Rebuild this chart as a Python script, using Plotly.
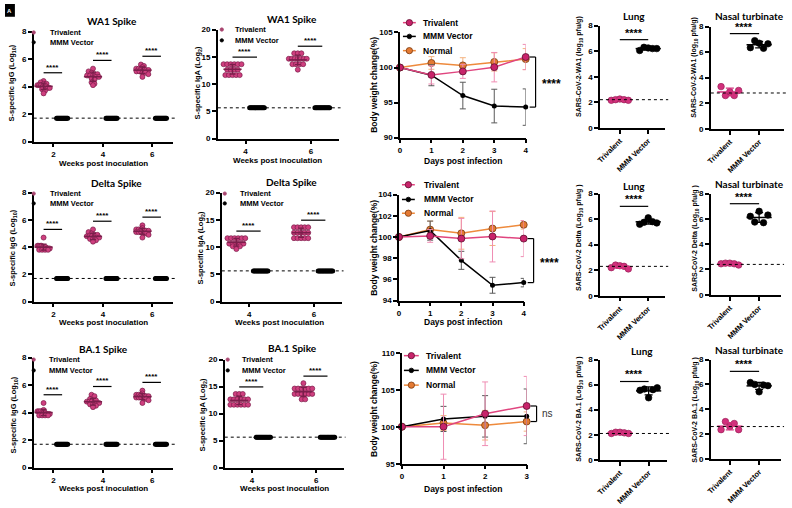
import numpy as np
import plotly.graph_objects as go

W, H = 792, 508
FONT = "Liberation Sans"
TFONT = "Lato"

# ---------------- serum IgG (log10) ----------------
igg_weeks = [2, 4, 6]
igg_lod = 1.7
igg_wa1_tri = [
    [4.4, 4.3, 4.2, 4.2, 4.1, 4.1, 4.1, 4.0, 4.0, 4.0, 3.9, 3.9, 3.8, 3.7, 3.5],
    [5.3, 5.1, 5.0, 4.9, 4.9, 4.8, 4.8, 4.8, 4.7, 4.7, 4.6, 4.5, 4.3, 4.2, 4.1],
    [5.6, 5.5, 5.4, 5.3, 5.3, 5.3, 5.2, 5.2, 5.2, 5.1, 5.1, 5.0, 5.0, 4.9, 4.7],
]
igg_delta_tri = [
    [4.7, 4.1, 4.1, 4.1, 4.1, 4.0, 4.0, 4.0, 3.9, 3.9, 3.9, 3.8, 3.8, 3.8, 3.8],
    [5.3, 5.1, 5.0, 4.9, 4.9, 4.8, 4.8, 4.8, 4.7, 4.7, 4.7, 4.6, 4.6, 4.5, 4.4],
    [5.6, 5.4, 5.3, 5.3, 5.3, 5.2, 5.2, 5.2, 5.1, 5.1, 5.1, 5.0, 5.0, 4.9, 4.7],
]
igg_ba1_tri = [
    [4.7, 4.2, 4.1, 4.1, 4.1, 4.0, 4.0, 4.0, 3.9, 3.9, 3.9, 3.8, 3.8, 3.8, 3.8],
    [5.3, 5.2, 5.0, 4.9, 4.9, 4.8, 4.8, 4.8, 4.7, 4.7, 4.7, 4.6, 4.6, 4.5, 4.4],
    [5.6, 5.4, 5.3, 5.3, 5.3, 5.2, 5.2, 5.2, 5.1, 5.1, 5.1, 5.0, 5.0, 4.9, 4.7],
]
igg_mmm = [1.7, 1.7, 1.7, 1.7, 1.7, 1.7, 1.7, 1.7, 1.7, 1.7, 1.7, 1.7, 1.7, 1.7, 1.7]

# ---------------- mucosal IgA (log2) ----------------
iga_weeks = [4, 6]
iga_lod = 5.64
iga_wa1_tri = [
    [13.64, 13.64, 13.64, 13.64, 13.64, 13.64, 12.64, 12.64, 12.64, 12.64, 11.64, 11.64, 11.64, 11.64, 11.64],
    [15.64, 15.64, 15.64, 14.64, 14.64, 14.64, 14.64, 14.64, 14.64, 14.64, 13.64, 13.64, 13.64, 13.64, 12.64],
]
iga_delta_tri = [
    [11.64, 11.64, 11.64, 11.64, 11.64, 11.64, 10.64, 10.64, 10.64, 10.64, 10.64, 10.14, 10.14, 10.14, 9.64],
    [13.64, 13.64, 13.64, 13.64, 13.64, 12.64, 12.64, 12.64, 12.64, 12.64, 11.64, 11.64, 11.64, 11.64, 11.64],
]
iga_ba1_tri = [
    [13.64, 13.64, 13.64, 12.64, 12.64, 12.64, 12.64, 12.64, 12.64, 11.64, 11.64, 11.64, 11.64, 11.64, 11.64],
    [15.64, 14.64, 14.64, 14.64, 14.64, 14.64, 14.64, 13.64, 13.64, 13.64, 13.64, 13.64, 13.64, 12.64, 12.64],
]
iga_mmm = [5.64, 5.64, 5.64, 5.64, 5.64, 5.64, 5.64, 5.64, 5.64, 5.64, 5.64, 5.64, 5.64, 5.64, 5.64]

# ---------------- body weight change (%) ----------------
bw_names = ["Trivalent", "MMM Vector", "Normal"]
days_wa1 = [0, 1, 2, 3, 4]
bw_wa1_tri = [100, 98.95, 99.45, 100.05, 101.5]
bw_wa1_tri_sd = [0, 1.3, 1.0, 2.1, 1.8]
bw_wa1_mmm = [100, 98.9, 96.0, 94.5, 94.35]
bw_wa1_mmm_sd = [0, 1.5, 1.9, 2.4, 2.6]
bw_wa1_nor = [100, 100.65, 100.3, 100.8, 101.2]
bw_wa1_nor_sd = [0, 0.9, 1.1, 1.3, 1.5]

days_delta = [0, 1, 2, 3, 4]
bw_delta_tri = [100, 100.1, 99.85, 100.05, 99.85]
bw_delta_tri_sd = [0, 0.6, 1.9, 2.4, 1.7]
bw_delta_mmm = [100, 100.6, 97.8, 95.45, 95.7]
bw_delta_mmm_sd = [0, 0.9, 0.85, 0.75, 0.4]
bw_delta_nor = [100, 100.7, 100.35, 100.8, 101.15]
bw_delta_nor_sd = [0, 0.8, 1.5, 1.6, 0.4]

days_ba1 = [0, 1, 2, 3]
bw_ba1_tri = [100, 100.0, 101.75, 102.8]
bw_ba1_tri_sd = [0, 4.4, 4.3, 4.0]
bw_ba1_mmm = [100, 101.05, 101.4, 101.4]
bw_ba1_mmm_sd = [0, 1.7, 2.8, 3.7]
bw_ba1_nor = [100, 100.5, 100.2, 100.7]
bw_ba1_nor_sd = [0, 1.0, 2.0, 1.3]

# ---------------- tissue viral titers (log10 pfu/g) ----------------
groups = ["Trivalent", "MMM Vector"]
lung_wa1_tri = [2.15, 2.2, 2.25, 2.2, 2.15]
lung_wa1_mmm = [6.05, 6.3, 6.25, 6.2, 6.2]
lung_wa1_lod = 2.2
nasal_wa1_tri = [3.3, 2.6, 2.9, 2.6, 3.0]
nasal_wa1_mmm = [6.35, 6.9, 6.7, 6.3, 6.65]
nasal_wa1_lod = 2.8
lung_delta_tri = [2.2, 2.4, 2.35, 2.3, 2.1]
lung_delta_mmm = [5.6, 5.75, 6.1, 5.8, 5.7]
lung_delta_lod = 2.3
nasal_delta_tri = [2.45, 2.5, 2.5, 2.45, 2.35]
nasal_delta_mmm = [6.2, 5.75, 6.6, 5.7, 6.3]
nasal_delta_lod = 2.4
lung_ba1_tri = [2.1, 2.2, 2.2, 2.15, 2.1]
lung_ba1_mmm = [5.55, 5.65, 4.95, 5.6, 5.75]
lung_ba1_lod = 2.1
nasal_ba1_tri = [2.35, 3.0, 2.6, 2.85, 2.35]
nasal_ba1_mmm = [6.15, 6.0, 5.4, 5.95, 5.9]
nasal_ba1_lod = 2.6

# ---------------- colours ----------------
TRI = "#cf3f7f"
TRI_EDGE = "#7a1d49"
TRI_BAR = "#7b1e4b"
BW_TRI_LINE = "#e0457f"
BW_TRI_ERR = "#ef8db3"
BW_MMM_ERR = "#5a5a5a"
BW_NOR_LINE = "#ee8a3c"
BW_NOR_MARK = "#e47a33"
BW_NOR_ERR = "#f4b27e"

fig = go.Figure()
shapes = []
annos = []


class Panel:
    def __init__(self, n, xpx, ypx, xr, yr):
        self.n = n
        self.x0, self.x1 = xpx
        self.y0, self.y1 = ypx
        self.xr, self.yr = xr, yr
        self.sfx = "" if n == 1 else str(n)

    def px(self, x):
        return self.x0 + (x - self.xr[0]) / (self.xr[1] - self.xr[0]) * (self.x1 - self.x0)

    def py(self, y):
        return self.y1 - (y - self.yr[0]) / (self.yr[1] - self.yr[0]) * (self.y1 - self.y0)


def text(xp, yp, s, size, bold=True, family=FONT, angle=0, xa="center", ya="middle", color="black"):
    annos.append(dict(x=xp / W, y=1 - yp / H, xref="paper", yref="paper", text=s, showarrow=False,
                      font=dict(family=family, size=size, color=color, weight="bold" if bold else "normal"),
                      textangle=angle, xanchor=xa, yanchor=ya))


def seg(xa, ya, xb, yb, color="black", width=1.2, dash="solid"):
    shapes.append(dict(type="line", xref="paper", yref="paper", x0=xa / W, x1=xb / W,
                       y0=1 - ya / H, y1=1 - yb / H, line=dict(color=color, width=width, dash=dash)))


def dot(xp, yp, r, fill, edge):
    shapes.append(dict(type="circle", xref="paper", yref="paper", x0=(xp - r) / W, x1=(xp + r) / W,
                       y0=1 - (yp + r) / H, y1=1 - (yp - r) / H, fillcolor=fill, line=dict(color=edge, width=0.8)))


def make_axes(P, xt, yt, xtext=None, xangle=0, xsize=8):
    base = dict(showline=True, linecolor="black", linewidth=1.5, ticks="outside", ticklen=4, tickwidth=1.5,
                tickcolor="black", showgrid=False, zeroline=False, fixedrange=True)
    fig.update_layout(**{
        "xaxis" + P.sfx: dict(base, domain=[P.x0 / W, P.x1 / W], range=P.xr, anchor="y" + P.sfx,
                              tickvals=xt, ticktext=xtext if xtext else [str(t) for t in xt], tickangle=xangle,
                              tickfont=dict(family=FONT, size=xsize, color="black", weight="bold")),
        "yaxis" + P.sfx: dict(base, domain=[1 - P.y1 / H, 1 - P.y0 / H], range=P.yr, anchor="x" + P.sfx,
                              tickvals=yt, tickfont=dict(family=FONT, size=8, color="black", weight="bold")),
    })


def swarm(values, center, step, width, bin_size):
    v = np.asarray(values, dtype=float)
    keys = np.floor(v / bin_size + 0.5)
    xs = np.zeros_like(v)
    for k in np.unique(keys):
        idx = np.where(keys == k)[0]
        n = len(idx)
        s = step if n < 2 else min(step, width / (n - 1))
        xs[idx] = center + (np.arange(n) - (n - 1) / 2.0) * s
    return xs


def mean_sd(P, cx, vals, color, mw, cap):
    v = np.asarray(vals, float)
    fig.add_trace(go.Scatter(x=[cx], y=[v.mean()], xaxis="x" + P.sfx, yaxis="y" + P.sfx, mode="markers",
                             marker=dict(symbol="line-ew", size=mw, line=dict(color=color, width=1.5)),
                             error_y=dict(type="data", array=[v.std(ddof=1)], color=color, thickness=1.3, width=cap),
                             showlegend=False, cliponaxis=False))


def stars(P, xa, xb, y, size, s="****"):
    seg(P.px(xa), P.py(y), P.px(xb), P.py(y), width=1.2)
    text((P.px(xa) + P.px(xb)) / 2, P.py(y) + 1, s, size, ya="bottom")


def dot_panel(P, weeks, tri_groups, mmm, lod, step, width, bin_size, gap):
    seg(P.x0, P.py(lod), P.x1 + 2, P.py(lod), width=1, dash="dot")
    for wk, tri in zip(weeks, tri_groups):
        ct, cm = wk - 0.4, wk + 0.35
        fig.add_trace(go.Scatter(x=swarm(mmm, cm, step, 0.45, bin_size), y=mmm, xaxis="x" + P.sfx,
                                 yaxis="y" + P.sfx, mode="markers", showlegend=False,
                                 marker=dict(size=5, color="black")))
        fig.add_trace(go.Scatter(x=swarm(tri, ct, step, width, bin_size), y=tri, xaxis="x" + P.sfx,
                                 yaxis="y" + P.sfx, mode="markers", showlegend=False,
                                 marker=dict(size=5, color=TRI, line=dict(color=TRI_EDGE, width=0.7))))
        mean_sd(P, ct, tri, TRI_BAR, 13, 3)
        stars(P, ct, cm, max(tri) + gap, 8)


def legend_dots(xm, ys, xt, size=7.5):
    dot(xm, ys[0], 1.7, "#a8456f", "#a8456f")
    dot(xm, ys[1], 1.7, "black", "black")
    text(xt, ys[0], "Trivalent", size, xa="left")
    text(xt, ys[1], "MMM Vector", size, xa="left")


def bw_panel(P, days, tri, tri_sd, mmm, mmm_sd, nor, nor_sd, label, lx, ly, ltx):
    ref = dict(xaxis="x" + P.sfx, yaxis="y" + P.sfx, showlegend=False, cliponaxis=False, mode="lines+markers")
    fig.add_trace(go.Scatter(x=days, y=nor, line=dict(color=BW_NOR_LINE, width=1.5),
                             marker=dict(size=7, color=BW_NOR_MARK, line=dict(color="#7a3a10", width=0.8)),
                             error_y=dict(type="data", array=nor_sd, color=BW_NOR_ERR, thickness=1, width=3), **ref))
    fig.add_trace(go.Scatter(x=days, y=mmm, line=dict(color="black", width=1.5),
                             marker=dict(size=5, color="black"),
                             error_y=dict(type="data", array=mmm_sd, color=BW_MMM_ERR, thickness=1, width=3), **ref))
    fig.add_trace(go.Scatter(x=days, y=tri, line=dict(color=BW_TRI_LINE, width=1.5),
                             marker=dict(size=7, color="#c8236a", line=dict(color="#5e0f30", width=0.8)),
                             error_y=dict(type="data", array=tri_sd, color=BW_TRI_ERR, thickness=1, width=3), **ref))
    # bracket between groups at the last day
    top = tri[-1]
    bot = min(mmm[-1], nor[-1])
    xr = P.px(days[-1]) + 10
    for yv in (top, bot):
        seg(xr - 6, P.py(yv), xr, P.py(yv), width=1.2)
    seg(xr, P.py(top), xr, P.py(bot), width=1.2)
    ymid = (P.py(top) + P.py(bot)) / 2
    if label == "ns":
        text(xr + 3, ymid, "ns", 10, bold=False, xa="left", color="#333333")
    else:
        text(xr + 16, ymid + 2, label, 12)
    # legend
    specs = [(BW_TRI_LINE, "#c8236a", "#5e0f30", 3.2), ("black", "black", "black", 2.3),
             (BW_NOR_LINE, BW_NOR_MARK, "#7a3a10", 3.2)]
    for (lc, fc, ec, r), yy, nm in zip(specs, ly, bw_names):
        seg(lx[0], yy, lx[1], yy, color=lc, width=1.5)
        dot((lx[0] + lx[1]) / 2, yy, r, fc, ec)
        text(ltx, yy, nm, 8.5, xa="left")


def tissue_panel(P, tri, mmm, lod, gap):
    seg(P.x0, P.py(lod), P.x1 + 3, P.py(lod), width=1, dash="dot")
    for ci, vals, fill, edge, bar in ((0, tri, "#d2307c", "#9a1f58", "#d2307c"),
                                      (1, mmm, "black", "black", "black")):
        xs = ci + np.linspace(-0.3, 0.3, len(vals))
        fig.add_trace(go.Scatter(x=xs, y=vals, xaxis="x" + P.sfx, yaxis="y" + P.sfx, mode="markers",
                                 showlegend=False, cliponaxis=False,
                                 marker=dict(size=6.5, color=fill, line=dict(color=edge, width=0.7))))
        mean_sd(P, ci, vals, bar, 18, 4)
    stars(P, 0, 1, max(mmm) + gap, 11)


# ---------------- panels ----------------
igg_rows = [(igg_wa1_tri, (28, 140)), (igg_delta_tri, (192, 303)), (igg_ba1_tri, (360, 472))]
iga_rows = [(iga_wa1_tri, (215, 337), (26, 137)), (iga_delta_tri, (219, 340), (192, 303)),
            (iga_ba1_tri, (222, 342), (362, 472))]

n = 1
for tri, ypx in igg_rows:
    P = Panel(n, (29, 170), ypx, [1.2, 6.85], [0, 8])
    make_axes(P, igg_weeks, [0, 2, 4, 6, 8])
    dot_panel(P, igg_weeks, tri, igg_mmm, igg_lod, 0.12, 0.5, 0.2, 0.6)
    n += 1
for tri, xpx, ypx in iga_rows:
    P = Panel(n, xpx, ypx, [3.15, 6.85], [0, 20])
    make_axes(P, iga_weeks, [0, 5, 10, 15, 20])
    dot_panel(P, iga_weeks, tri, iga_mmm, iga_lod, 0.11, 0.55, 0.5, 1.3)
    n += 1

P = Panel(n, (399, 526), (29, 136), [0, 4], [90, 105])
make_axes(P, days_wa1, [90, 95, 100, 105])
bw_panel(P, days_wa1, bw_wa1_tri, bw_wa1_tri_sd, bw_wa1_mmm, bw_wa1_mmm_sd, bw_wa1_nor, bw_wa1_nor_sd,
         "****", (402, 415), (19, 33, 47.5), 420)
n += 1
P = Panel(n, (398, 524), (194, 302), [0, 4], [94, 104])
make_axes(P, days_delta, [94, 96, 98, 100, 102, 104])
bw_panel(P, days_delta, bw_delta_tri, bw_delta_tri_sd, bw_delta_mmm, bw_delta_mmm_sd, bw_delta_nor,
         bw_delta_nor_sd, "****", (401, 414), (184, 199, 213), 421)
n += 1
P = Panel(n, (401, 527), (355, 468), [0, 3], [95, 110])
make_axes(P, days_ba1, [95, 100, 105, 110])
bw_panel(P, days_ba1, bw_ba1_tri, bw_ba1_tri_sd, bw_ba1_mmm, bw_ba1_mmm_sd, bw_ba1_nor, bw_ba1_nor_sd,
         "ns", (403, 418), (358, 373, 388), 423)
n += 1

tissue = [
    (lung_wa1_tri, lung_wa1_mmm, lung_wa1_lod, (601, 667), (22, 126), [-0.7, 1.6], 0.6),
    (nasal_wa1_tri, nasal_wa1_mmm, nasal_wa1_lod, (713, 787), (23, 127), [-0.65, 1.85], 0.55),
    (lung_delta_tri, lung_delta_mmm, lung_delta_lod, (601, 667), (193, 297), [-0.7, 1.6], 0.9),
    (nasal_delta_tri, nasal_delta_mmm, nasal_delta_lod, (713, 784), (193, 296), [-0.65, 1.75], 0.6),
    (lung_ba1_tri, lung_ba1_mmm, lung_ba1_lod, (601, 669), (362, 464), [-0.7, 1.65], 0.5),
    (nasal_ba1_tri, nasal_ba1_mmm, nasal_ba1_lod, (713, 784), (362, 463), [-0.65, 1.75], 0.9),
]
for tri, mmm, lod, xpx, ypx, xr, gap in tissue:
    P = Panel(n, xpx, ypx, xr, [0, 8])
    make_axes(P, [0, 1], [0, 2, 4, 6, 8], xtext=groups, xangle=-45, xsize=7.5)
    tissue_panel(P, tri, mmm, lod, gap)
    n += 1

# ---------------- titles & labels ----------------
for s, x, y in [("WA1 Spike", 108, 17), ("WA1 Spike", 290, 15), ("Lung", 635, 12), ("Nasal turbinate", 752, 12),
                ("Delta Spike", 113, 182), ("Delta Spike", 289, 181), ("Lung", 635, 185),
                ("Nasal turbinate", 752, 183), ("BA.1 Spike", 100, 351), ("BA.1 Spike", 290, 350),
                ("Lung", 643, 353), ("Nasal turbinate", 752, 352)]:
    text(x, y, s, 10, family=TFONT)

for y in (162, 324, 493):
    text(100, y, "Weeks post inoculation", 8)
for x, y in ((275, 159), (277, 324), (282, 493)):
    text(x, y, "Weeks post inoculation", 8)
for y in (160, 324, 494):
    text(463, y, "Days post infection", 8.5)

for x, y in ((7, 80), (8, 248), (9, 418)):
    text(x, y, "S-specific IgG (Log<sub>10</sub>)", 7.5, angle=-90)
for x, y in ((195, 80), (198, 248), (200, 418)):
    text(x, y, "S-specific IgA (Log<sub>2</sub>)", 7.5, angle=-90)
for y in (82, 248, 412):
    text(372, y, "Body weight change(%)", 8.5, angle=-90)
for x, y, s in ((580, 64, "SARS-CoV-2-WA1 (log<sub>10</sub> pfu/g)"),
                (696, 64, "SARS-CoV-2-WA1 (log<sub>10</sub> pfu/g)"),
                (580, 238, "SARS-CoV-2 Delta (Log<sub>10</sub> pfu/g )"),
                (697, 238, "SARS-CoV-2 Delta (Log<sub>10</sub> pfu/g )"),
                (580, 413, "SARS-CoV-2 BA.1 (Log<sub>10</sub> pfu/g )"),
                (697, 413, "SARS-CoV-2 BA.1 (Log<sub>10</sub> pfu/g )")):
    text(x, y, s, 7, angle=-90)

# legends for dot plots
legend_dots(29, (29, 39), 43)
legend_dots(29, (193, 203), 43)
legend_dots(29, (362, 373), 42)
legend_dots(219, (26, 37), 230)
legend_dots(222, (193, 203), 235)
legend_dots(225, (362, 373), 237)

# panel letter box
shapes.append(dict(type="rect", xref="paper", yref="paper", x0=0, x1=10 / W, y0=1 - 13 / H, y1=1,
                   fillcolor="black", line=dict(width=0)))
text(5, 7, "A", 6, color="white")

fig.update_layout(width=W, height=H, margin=dict(l=0, r=0, t=0, b=0), paper_bgcolor="white",
                  plot_bgcolor="white", showlegend=False, shapes=shapes, annotations=annos)
fig.write_html("out.html", config={"displayModeBar": False},
               post_script="document.body.style.margin='0';")
